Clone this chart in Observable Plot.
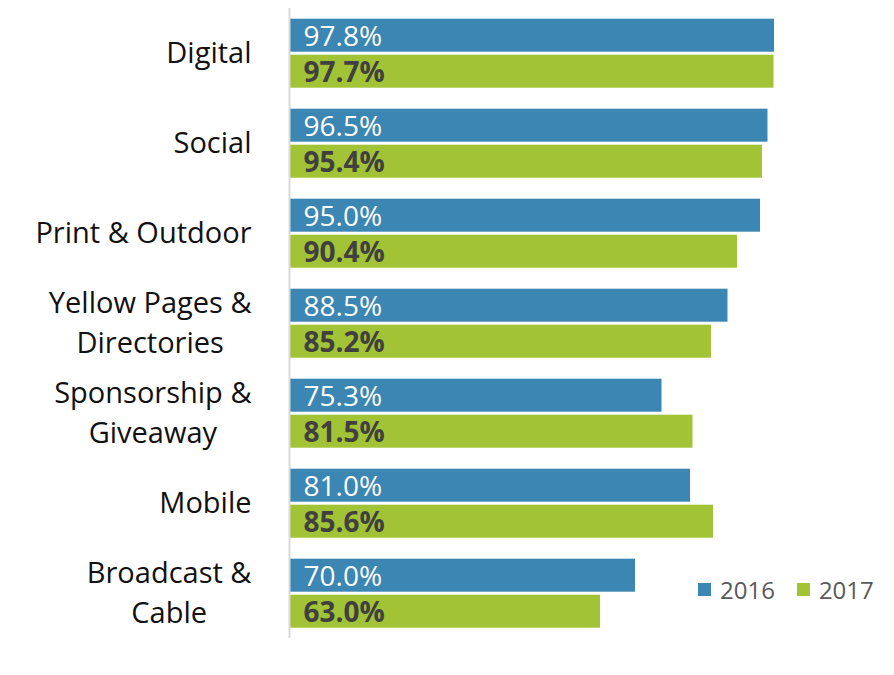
<!DOCTYPE html>
<html>
<head>
<meta charset="utf-8">
<script src="https://cdn.jsdelivr.net/npm/d3@7"></script>
<script src="https://cdn.jsdelivr.net/npm/@observablehq/plot@0.6"></script>
<style>
  body { margin: 0; background: #fff; font-family: "Open Sans", sans-serif; }
  #wrap { position: relative; width: 894px; height: 675px; }
  #legend { position: absolute; left: 698px; top: 573px; height: 33px; display: flex; align-items: center; font-size: 24px; color: #595959; font-family: "Open Sans", sans-serif; }
  #legend .item { display: flex; align-items: center; margin-right: 22px; }
  #legend .sw { width: 13px; height: 13px; margin-right: 9px; }
</style>
</head>
<body>
<div id="wrap"></div>
<script>
const categories = ["Digital", "Social", "Print & Outdoor", "Yellow Pages &\nDirectories", "Sponsorship &\nGiveaway", "Mobile", "Broadcast &\nCable"];
const years = ["2016", "2017"];
const values2016 = [97.8, 96.5, 95.0, 88.5, 75.3, 81.0, 70.0];
const values2017 = [97.7, 95.4, 90.4, 85.2, 81.5, 85.6, 63.0];
const colors = ["#3B86B2", "#A1C335"];

const rows = [];
categories.forEach((c, i) => {
  rows.push({category: c, year: years[0], value: values2016[i]});
  rows.push({category: c, year: years[1], value: values2017[i]});
});

const labelFont = 29;
const ctx = document.createElement("canvas").getContext("2d");
ctx.font = labelFont + "px 'Open Sans'";
const blockWidth = (s) => Math.max(...s.split("\n").map(l => ctx.measureText(l).width));
const labelGap = 34;

const fmt = d => d.value.toFixed(1) + "%";

const chart = Plot.plot({
  width: 894,
  height: 675,
  marginLeft: 285,
  marginRight: 109,
  marginTop: 8.3,
  marginBottom: 36.7,
  x: {domain: [0, 100], axis: null},
  y: {domain: years, axis: null, paddingInner: 0.092, paddingOuter: 0.296},
  fy: {domain: categories, axis: null, padding: 0},
  color: {domain: years, range: colors},
  style: {fontFamily: "'Open Sans', sans-serif", background: "#fff", overflow: "visible"},
  marks: [
    Plot.barX(rows, {fy: "category", y: "year", x: "value", fill: "year", insetLeft: 5}),
    Plot.ruleX([0], {dx: 4, stroke: "#d9d9d9", strokeWidth: 2}),
    Plot.text(rows.filter(d => d.year === years[0]), {
      fy: "category", y: "year", text: fmt, frameAnchor: "left", textAnchor: "start",
      dx: 18, dy: 1, fill: "#ffffff", fontSize: 28
    }),
    Plot.text(rows.filter(d => d.year === years[1]), {
      fy: "category", y: "year", text: fmt, frameAnchor: "left", textAnchor: "start",
      dx: 18, dy: 1, fill: "#404040", fontSize: 28, fontWeight: "bold"
    }),
    ...categories.map(c => Plot.text([c], {
      fy: d => d, text: d => d, frameAnchor: "left", textAnchor: "middle",
      dx: -(labelGap + blockWidth(c) / 2), dy: -3, fontSize: labelFont, lineHeight: 1.38, fill: "#111111"
    }))
  ]
});

const wrap = document.getElementById("wrap");
wrap.appendChild(chart);

const legend = document.createElement("div");
legend.id = "legend";
years.forEach((y, i) => {
  const item = document.createElement("div");
  item.className = "item";
  const sw = document.createElement("span");
  sw.className = "sw";
  sw.style.background = colors[i];
  const t = document.createElement("span");
  t.textContent = y;
  item.appendChild(sw);
  item.appendChild(t);
  legend.appendChild(item);
});
wrap.appendChild(legend);
</script>
</body>
</html>
